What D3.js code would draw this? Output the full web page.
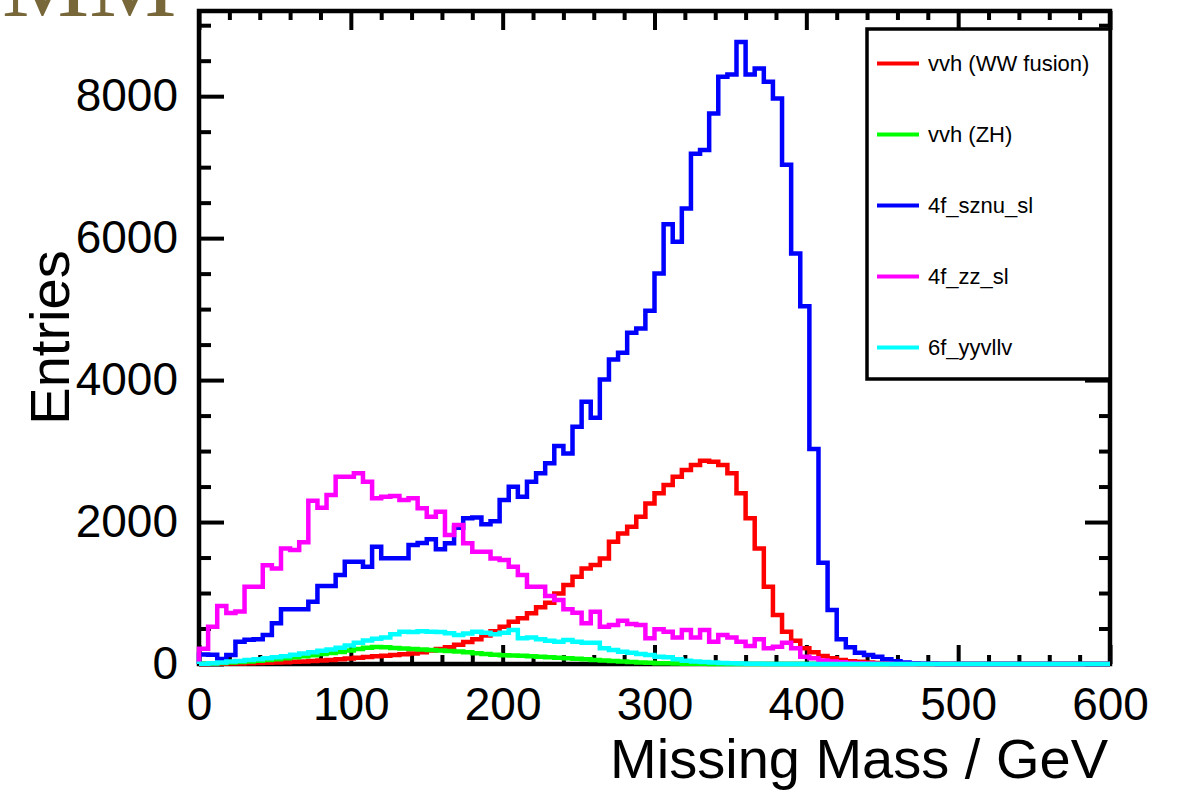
<!DOCTYPE html>
<html>
<head>
<meta charset="utf-8">
<script src="https://cdn.jsdelivr.net/npm/d3@7"></script>
<style>
  body { margin: 0; background: #fff; }
  text { font-family: "Liberation Sans", Arial, Helvetica, sans-serif; }
</style>
</head>
<body>
<div id="chart"></div>
<script>
// histogram binning: 100 bins, 0 - 600 GeV
var binLow = 0, binHigh = 600, nBins = 100;

var seriesNames = ["vvh (WW fusion)", "vvh (ZH)", "4f_sznu_sl", "4f_zz_sl", "6f_yyvllv"];
var seriesColors = ["#ff0000", "#00ff00", "#0000ff", "#ff00ff", "#00ffff"];

var vvhWW = [0,2,4,6,8,10,13,16,20,25,30,36,42,50,58,68,78,88,98,108,
  118,128,138,148,165,190,210,235,270,310,350,400,460,525,596,643,714,798,864,995,
  1113,1230,1347,1394,1488,1723,1840,1934,2075,2263,2404,2521,2638,2732,2803,2864,2850,2803,2686,2404,
  2052,1629,1089,690,455,329,221,164,113,80,55,40,30,22,15,10,6,4,2,0,
  0,0,0,0,0,0,0,0,0,0,0,0,0,0,0,0,0,0,0,0];

var vvhZH = [3,8,14,20,28,36,45,56,68,80,95,110,125,140,155,170,190,210,230,240,
  235,225,218,210,205,197,190,183,176,165,152,140,130,125,120,115,110,103,96,89,
  82,75,66,58,50,42,35,28,22,17,12,9,6,4,3,2,1,0,0,0,
  0,0,0,0,0,0,0,0,0,0,0,0,0,0,0,0,0,0,0,0,
  0,0,0,0,0,0,0,0,0,0,0,0,0,0,0,0,0,0,0,0];

var sznu = [135,130,70,127,315,340,350,408,573,770,770,770,878,1099,1099,1254,1441,1441,1371,1652,
  1490,1490,1490,1676,1705,1756,1615,1700,1920,2052,2065,1970,2010,2310,2497,2357,2568,2686,2827,3070,
  2967,3342,3694,3470,4009,4291,4385,4667,4728,4977,5502,6197,5948,6418,7190,7240,7756,8272,8305,8765,
  8305,8390,8202,7967,7035,5784,5042,3030,1427,761,347,235,160,127,103,66,40,20,8,4,
  2,0,0,0,0,0,0,0,0,0,0,0,0,0,0,0,0,0,0,0];

var zzsl = [215,525,817,720,740,1090,1090,1390,1347,1629,1605,1715,2300,2200,2380,2638,2638,2686,2568,2334,
  2357,2366,2310,2334,2193,2075,2145,1817,1958,1700,1582,1582,1488,1465,1371,1254,1089,1089,958,901,
  770,723,573,737,525,549,610,563,549,362,488,455,375,479,375,479,315,408,375,315,
  254,347,221,244,300,221,103,80,50,35,25,15,10,6,4,2,0,0,0,0,
  0,0,0,0,0,0,0,0,0,0,0,0,0,0,0,0,0,0,0,0];

var yyvllv = [5,12,20,35,42,55,68,80,95,110,130,148,165,185,205,230,260,300,330,355,
  375,420,455,450,460,455,450,432,410,430,455,440,420,440,479,362,375,347,329,315,
  338,315,300,300,221,197,174,160,141,127,103,94,66,47,35,28,20,15,10,6,
  4,2,0,0,0,0,0,0,0,0,0,0,0,0,0,0,0,0,0,0,
  0,0,0,0,0,0,0,0,0,0,0,0,0,0,0,0,0,0,0,0];

var xMajorTicks = [0, 100, 200, 300, 400, 500, 600];
var yMajorTicks = [0, 2000, 4000, 6000, 8000];

var allSeries = [vvhWW, vvhZH, sznu, zzsl, yyvllv];

var W = 1184, H = 794;
var frame = {left: 199, right: 1110, top: 11, bottom: 664};

var svg = d3.select("#chart").append("svg")
  .attr("width", W).attr("height", H)
  .style("display", "block");

svg.append("rect").attr("width", W).attr("height", H).attr("fill", "#fff");

// leftover slide title, cut off at the top
svg.append("text")
  .attr("x", 2).attr("y", 16)
  .style("font-family", "'Liberation Serif', 'DejaVu Serif', serif")
  .style("font-size", "98px")
  .attr("fill", "#786739")
  .text("MM");

var x = d3.scaleLinear().domain([binLow, binHigh]).range([frame.left, frame.right]);
var y = d3.scaleLinear().domain([0, 9200]).range([frame.bottom, frame.top]);

var binW = (binHigh - binLow) / nBins;

// frame
svg.append("rect")
  .attr("x", frame.left).attr("y", frame.top)
  .attr("width", frame.right - frame.left).attr("height", frame.bottom - frame.top)
  .attr("fill", "none").attr("stroke", "#000").attr("stroke-width", 4.5);

function drawAxis(axis, tx, ty, withLabels) {
  var g = svg.append("g").attr("transform", "translate(" + tx + "," + ty + ")").call(axis);
  g.select(".domain").remove();
  g.selectAll(".tick line").attr("stroke", "#000").attr("stroke-width", 4);
  g.selectAll("text")
    .style("font-family", "'Liberation Sans', Arial, Helvetica, sans-serif")
    .style("font-size", "46px").attr("fill", "#000");
  if (!withLabels) g.selectAll("text").remove();
  return g;
}

var xMinor = d3.range(binLow, binHigh + 1, 20).filter(function(d) { return d % 100 != 0; });
var yMinor = d3.range(0, 9200, 500).filter(function(d) { return d % 2000 != 0; });

// bottom / top
drawAxis(d3.axisBottom(x).tickValues(xMajorTicks).tickSize(-19).tickPadding(23).tickFormat(d3.format("d")), 0, frame.bottom, true);
drawAxis(d3.axisBottom(x).tickValues(xMinor).tickSize(-9).tickFormat(""), 0, frame.bottom, false);
drawAxis(d3.axisTop(x).tickValues(xMajorTicks).tickSize(-19).tickFormat(""), 0, frame.top, false);
drawAxis(d3.axisTop(x).tickValues(xMinor).tickSize(-9).tickFormat(""), 0, frame.top, false);
// left / right
drawAxis(d3.axisLeft(y).tickValues(yMajorTicks).tickSize(-25).tickPadding(21).tickFormat(d3.format("d")), frame.left, 0, true);
drawAxis(d3.axisLeft(y).tickValues(yMinor).tickSize(-12).tickFormat(""), frame.left, 0, false);
drawAxis(d3.axisRight(y).tickValues(yMajorTicks).tickSize(-25).tickFormat(""), frame.right, 0, false);
drawAxis(d3.axisRight(y).tickValues(yMinor).tickSize(-11).tickFormat(""), frame.right, 0, false);

// axis titles
svg.append("text")
  .attr("x", frame.right - 2).attr("y", 778)
  .attr("text-anchor", "end")
  .style("font-size", "56px")
  .text("Missing Mass / GeV");

svg.append("text")
  .attr("transform", "translate(69," + ((frame.top + frame.bottom) / 2) + ") rotate(-90)")
  .attr("text-anchor", "middle")
  .style("font-size", "56px")
  .text("Entries");

// histograms as step outlines
var stepLine = d3.line()
  .x(function(d) { return x(d[0]); })
  .y(function(d) { return y(d[1]); })
  .curve(d3.curveStepAfter);

allSeries.forEach(function(vals, k) {
  var pts = [[binLow, 0]];
  vals.forEach(function(v, i) { pts.push([binLow + i * binW, v]); });
  pts.push([binHigh, vals[vals.length - 1]]);
  pts.push([binHigh, 0]);
  svg.append("path")
    .attr("d", stepLine(pts))
    .attr("fill", "none")
    .attr("stroke", seriesColors[k])
    .attr("stroke-width", 4.5)
    .attr("stroke-linejoin", "miter");
});

// legend
var leg = svg.append("g");
leg.append("rect")
  .attr("x", 867).attr("y", 29).attr("width", 243).attr("height", 350)
  .attr("fill", "#fff").attr("stroke", "#000").attr("stroke-width", 3.5);

seriesNames.forEach(function(name, k) {
  var ly = 63.5 + k * 71;
  leg.append("line")
    .attr("x1", 877).attr("x2", 919).attr("y1", ly).attr("y2", ly)
    .attr("stroke", seriesColors[k]).attr("stroke-width", 4);
  leg.append("text")
    .attr("x", 928).attr("y", ly + 7.5)
    .style("font-size", "22px")
    .text(name);
});
</script>
</body>
</html>
